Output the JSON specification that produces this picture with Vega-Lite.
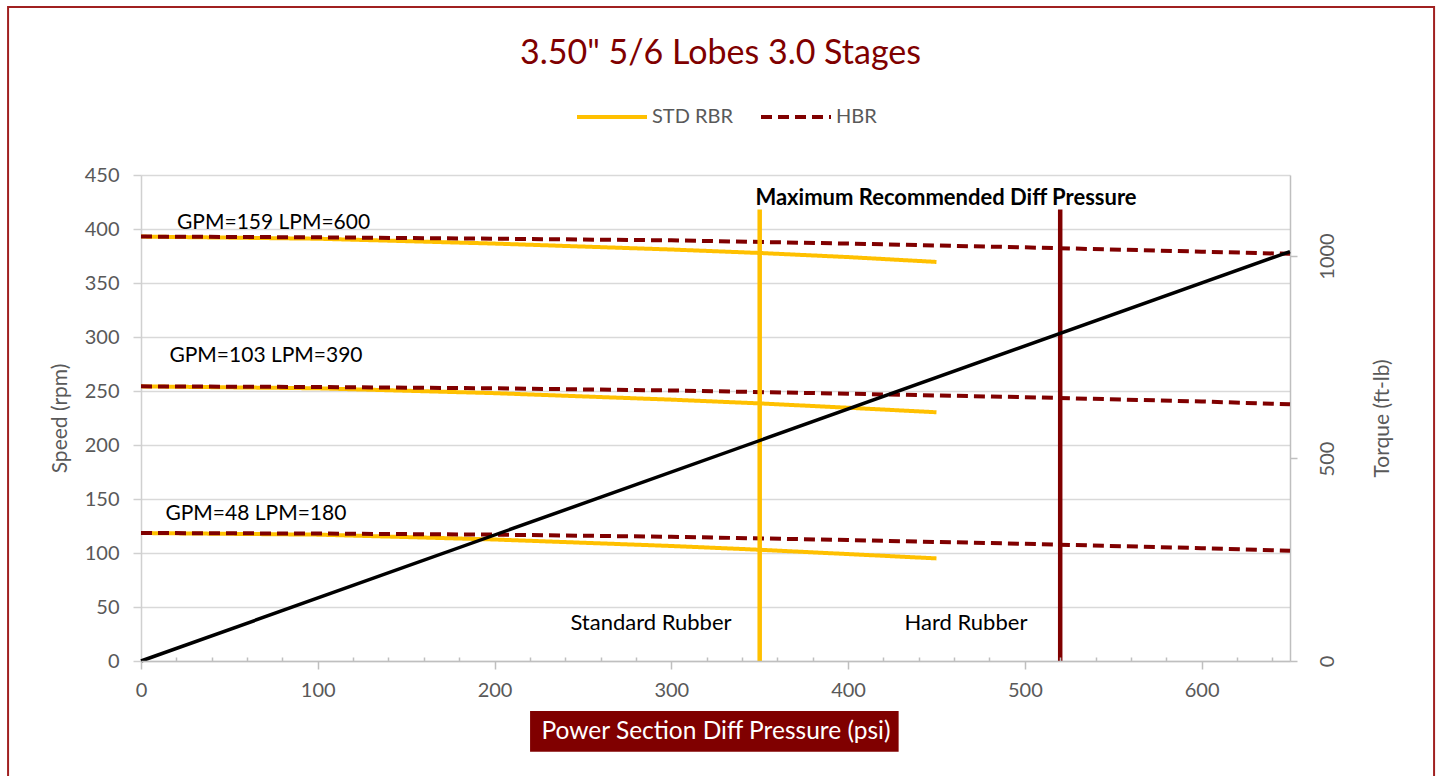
{
  "$schema": "https://vega.github.io/schema/vega-lite/v6.json",
  "width": 1149,
  "height": 486,
  "autosize": {"type": "none"},
  "padding": {"left": 141, "top": 175, "right": 149, "bottom": 115},
  "background": "white",
  "title": {
    "text": "3.50\" 5/6 Lobes 3.0 Stages",
    "font": "Lato",
    "fontSize": 34,
    "fontWeight": "normal",
    "color": "#7F0000",
    "anchor": "middle",
    "frame": "group",
    "offset": -92,
    "dx": 5,
    "baseline": "alphabetic"
  },
  "config": {
    "view": {"stroke": null},
    "font": "Lato",
    "axisX": {
      "values": [0,20,40,60,80,100,120,140,160,180,200,220,240,260,280,300,320,340,360,380,400,420,440,460,480,500,520,540,560,580,600,620,640],
      "labelExpr": "datum.value % 100 === 0 ? datum.label : ''",
      "tickSize": {"condition": {"test": "datum.value % 100 === 0", "value": 8}, "value": -4},
      "labelOverlap": false,
      "labelFlush": false,
      "grid": false,
      "domainColor": "#BFBFBF",
      "domainWidth": 1.5,
      "tickColor": "#BFBFBF",
      "tickWidth": 1.5,
      "labelFontSize": 20,
      "labelColor": "#595959",
      "labelPadding": 11,
      "titleColor": "#FFFFFF",
      "titleFontSize": 24.5,
      "titleFontWeight": "normal",
      "titleY": 70,
      "titleBaseline": "middle",
      "zindex": 1
    }
  },
  "resolve": {"scale": {"y": "independent"}},
  "layer": [
    {
      "layer": [
        {
          "data": {"values": [{}]},
          "mark": {"type": "rect", "fill": null, "stroke": "#A02020", "strokeWidth": 2},
          "encoding": {
            "x": {"datum": -75.2, "type": "quantitative", "title": "Power Section Diff Pressure (psi)", "axis": {"values": [0,20,40,60,80,100,120,140,160,180,200,220,240,260,280,300,320,340,360,380,400,420,440,460,480,500,520,540,560,580,600,620,640], "labelExpr": "datum.value % 100 === 0 ? datum.label : ''", "labelOverlap": false, "zindex": 1, "tickSize": {"condition": {"test": "datum.value % 100 === 0", "value": 8}, "value": -4}}},
            "x2": {"datum": 731.5},
            "y": {"datum": 605.6, "type": "quantitative", "title": "Speed (rpm)"},
            "y2": {"datum": -140}
          }
        },
        {
          "data": {"values": [{}]},
          "mark": {"type": "rect", "fill": "#800000"},
          "encoding": {
            "x": {"datum": 220.1, "type": "quantitative", "title": "Power Section Diff Pressure (psi)", "axis": {"values": [0,20,40,60,80,100,120,140,160,180,200,220,240,260,280,300,320,340,360,380,400,420,440,460,480,500,520,540,560,580,600,620,640], "labelExpr": "datum.value % 100 === 0 ? datum.label : ''", "labelOverlap": false, "zindex": 1, "tickSize": {"condition": {"test": "datum.value % 100 === 0", "value": 8}, "value": -4}}},
            "x2": {"datum": 428.6},
            "y": {"datum": -46.3, "type": "quantitative", "title": "Speed (rpm)"},
            "y2": {"datum": -84}
          }
        },
        {
          "data": {
            "values": [
              {"flow": "600", "series": "STD RBR", "psi": 0, "rpm": 393},
              {"flow": "600", "series": "STD RBR", "psi": 100, "rpm": 391},
              {"flow": "600", "series": "STD RBR", "psi": 200, "rpm": 386.5},
              {"flow": "600", "series": "STD RBR", "psi": 300, "rpm": 381},
              {"flow": "600", "series": "STD RBR", "psi": 350, "rpm": 377.8},
              {"flow": "600", "series": "STD RBR", "psi": 400, "rpm": 374},
              {"flow": "600", "series": "STD RBR", "psi": 450, "rpm": 369.5},
              {"flow": "390", "series": "STD RBR", "psi": 0, "rpm": 254.3},
              {"flow": "390", "series": "STD RBR", "psi": 100, "rpm": 252.5},
              {"flow": "390", "series": "STD RBR", "psi": 200, "rpm": 248},
              {"flow": "390", "series": "STD RBR", "psi": 300, "rpm": 242},
              {"flow": "390", "series": "STD RBR", "psi": 350, "rpm": 238.5},
              {"flow": "390", "series": "STD RBR", "psi": 400, "rpm": 234.5},
              {"flow": "390", "series": "STD RBR", "psi": 450, "rpm": 230.3},
              {"flow": "180", "series": "STD RBR", "psi": 0, "rpm": 118.5},
              {"flow": "180", "series": "STD RBR", "psi": 100, "rpm": 117},
              {"flow": "180", "series": "STD RBR", "psi": 200, "rpm": 112.5},
              {"flow": "180", "series": "STD RBR", "psi": 300, "rpm": 106.5},
              {"flow": "180", "series": "STD RBR", "psi": 350, "rpm": 103},
              {"flow": "180", "series": "STD RBR", "psi": 400, "rpm": 99},
              {"flow": "180", "series": "STD RBR", "psi": 450, "rpm": 95},
              {"flow": "600", "series": "HBR", "psi": 0, "rpm": 393},
              {"flow": "600", "series": "HBR", "psi": 100, "rpm": 392.3},
              {"flow": "600", "series": "HBR", "psi": 200, "rpm": 391},
              {"flow": "600", "series": "HBR", "psi": 300, "rpm": 389.5},
              {"flow": "600", "series": "HBR", "psi": 400, "rpm": 386.5},
              {"flow": "600", "series": "HBR", "psi": 500, "rpm": 383},
              {"flow": "600", "series": "HBR", "psi": 600, "rpm": 379},
              {"flow": "600", "series": "HBR", "psi": 650, "rpm": 377},
              {"flow": "390", "series": "HBR", "psi": 0, "rpm": 254.3},
              {"flow": "390", "series": "HBR", "psi": 100, "rpm": 253.7},
              {"flow": "390", "series": "HBR", "psi": 200, "rpm": 252.5},
              {"flow": "390", "series": "HBR", "psi": 300, "rpm": 250.5},
              {"flow": "390", "series": "HBR", "psi": 400, "rpm": 247.5},
              {"flow": "390", "series": "HBR", "psi": 500, "rpm": 244.3},
              {"flow": "390", "series": "HBR", "psi": 600, "rpm": 240.3},
              {"flow": "390", "series": "HBR", "psi": 650, "rpm": 237.7},
              {"flow": "180", "series": "HBR", "psi": 0, "rpm": 118.5},
              {"flow": "180", "series": "HBR", "psi": 100, "rpm": 118},
              {"flow": "180", "series": "HBR", "psi": 200, "rpm": 117},
              {"flow": "180", "series": "HBR", "psi": 300, "rpm": 115},
              {"flow": "180", "series": "HBR", "psi": 400, "rpm": 112},
              {"flow": "180", "series": "HBR", "psi": 500, "rpm": 108.5},
              {"flow": "180", "series": "HBR", "psi": 600, "rpm": 104.5},
              {"flow": "180", "series": "HBR", "psi": 650, "rpm": 102}
            ]
          },
          "mark": {"type": "line", "strokeWidth": 4},
          "encoding": {
            "x": {
              "field": "psi",
              "type": "quantitative",
              "title": "Power Section Diff Pressure (psi)",
              "scale": {"domain": [0, 650], "nice": false, "zero": true},
              "axis": {"values": [0,20,40,60,80,100,120,140,160,180,200,220,240,260,280,300,320,340,360,380,400,420,440,460,480,500,520,540,560,580,600,620,640], "labelExpr": "datum.value % 100 === 0 ? datum.label : ''", "labelOverlap": false, "zindex": 1, "tickSize": {"condition": {"test": "datum.value % 100 === 0", "value": 8}, "value": -4}}
            },
            "y": {
              "field": "rpm",
              "type": "quantitative",
              "title": "Speed (rpm)",
              "scale": {"domain": [0, 450], "nice": false},
              "axis": {
                "orient": "left",
                "values": [0,50,100,150,200,250,300,350,400,450],
                "grid": true,
                "gridColor": "#D9D9D9",
                "gridWidth": 1.5,
                "domainColor": "#D0D0D0",
                "domainWidth": 1.5,
                "tickColor": "#D0D0D0",
                "tickWidth": 1.5,
                "tickSize": 8,
                "labelFontSize": 20,
                "labelColor": "#595959",
                "labelPadding": 14,
                "labelFlush": false,
                "titleFontSize": 21,
                "titleFontWeight": "normal",
                "titleColor": "#595959",
                "titleAngle": 270,
                "titleX": -81,
                "titleY": 243,
                "titleAlign": "center",
                "titleBaseline": "middle"
              }
            },
            "color": {
              "field": "series",
              "type": "nominal",
              "title": null,
              "scale": {"domain": ["STD RBR", "HBR"], "range": ["#FFC000", "#800000"]},
              "legend": {
                "orient": "none",
                "legendX": 434,
                "legendY": -95,
                "direction": "horizontal",
                "padding": 0,
                "symbolType": "stroke",
                "symbolSize": 4900,
                "symbolStrokeWidth": 4,
                "labelFontSize": 20,
                "labelColor": "#595959",
                "labelOffset": 3,
                "columnPadding": 20
              }
            },
            "strokeDash": {
              "field": "series",
              "type": "nominal",
              "title": null,
              "scale": {"domain": ["STD RBR", "HBR"], "range": [[1, 0], [11, 6]]},
              "legend": {
                "orient": "none",
                "legendX": 434,
                "legendY": -95,
                "direction": "horizontal",
                "padding": 0,
                "symbolType": "stroke",
                "symbolSize": 4900,
                "symbolStrokeWidth": 4,
                "labelFontSize": 20,
                "labelColor": "#595959",
                "labelOffset": 3,
                "columnPadding": 20
              }
            },
            "detail": {"field": "flow", "type": "nominal"}
          }
        },
        {
          "data": {"values": [{"psi": 350, "rpm": 0, "rpm2": 418}]},
          "mark": {"type": "rule", "color": "#FFC000", "strokeWidth": 4.5},
          "encoding": {
            "x": {"field": "psi", "type": "quantitative", "title": "Power Section Diff Pressure (psi)", "axis": {"values": [0,20,40,60,80,100,120,140,160,180,200,220,240,260,280,300,320,340,360,380,400,420,440,460,480,500,520,540,560,580,600,620,640], "labelExpr": "datum.value % 100 === 0 ? datum.label : ''", "labelOverlap": false, "zindex": 1, "tickSize": {"condition": {"test": "datum.value % 100 === 0", "value": 8}, "value": -4}}},
            "y": {"field": "rpm", "type": "quantitative", "title": "Speed (rpm)"},
            "y2": {"field": "rpm2"}
          }
        },
        {
          "data": {"values": [{"psi": 520, "rpm": 0, "rpm2": 418}]},
          "mark": {"type": "rule", "color": "#800000", "strokeWidth": 4.5},
          "encoding": {
            "x": {"field": "psi", "type": "quantitative", "title": "Power Section Diff Pressure (psi)", "axis": {"values": [0,20,40,60,80,100,120,140,160,180,200,220,240,260,280,300,320,340,360,380,400,420,440,460,480,500,520,540,560,580,600,620,640], "labelExpr": "datum.value % 100 === 0 ? datum.label : ''", "labelOverlap": false, "zindex": 1, "tickSize": {"condition": {"test": "datum.value % 100 === 0", "value": 8}, "value": -4}}},
            "y": {"field": "rpm", "type": "quantitative", "title": "Speed (rpm)"},
            "y2": {"field": "rpm2"}
          }
        },
        {
          "data": {
            "values": [
              {"label": "GPM=159 LPM=600", "psi": 75, "rpm": 400},
              {"label": "GPM=103 LPM=390", "psi": 70.7, "rpm": 277},
              {"label": "GPM=48 LPM=180", "psi": 65, "rpm": 130.6}
            ]
          },
          "mark": {"type": "text", "align": "center", "baseline": "alphabetic", "fontSize": 21, "color": "#000000", "font": "Lato"},
          "encoding": {
            "x": {"field": "psi", "type": "quantitative", "title": "Power Section Diff Pressure (psi)", "axis": {"values": [0,20,40,60,80,100,120,140,160,180,200,220,240,260,280,300,320,340,360,380,400,420,440,460,480,500,520,540,560,580,600,620,640], "labelExpr": "datum.value % 100 === 0 ? datum.label : ''", "labelOverlap": false, "zindex": 1, "tickSize": {"condition": {"test": "datum.value % 100 === 0", "value": 8}, "value": -4}}},
            "y": {"field": "rpm", "type": "quantitative", "title": "Speed (rpm)"},
            "text": {"field": "label", "type": "nominal"}
          }
        },
        {
          "data": {
            "values": [
              {"label": "Standard Rubber", "psi": 288.5, "rpm": 28.7},
              {"label": "Hard Rubber", "psi": 466.7, "rpm": 28.7}
            ]
          },
          "mark": {"type": "text", "align": "center", "baseline": "alphabetic", "fontSize": 22, "color": "#000000", "font": "Lato"},
          "encoding": {
            "x": {"field": "psi", "type": "quantitative", "title": "Power Section Diff Pressure (psi)", "axis": {"values": [0,20,40,60,80,100,120,140,160,180,200,220,240,260,280,300,320,340,360,380,400,420,440,460,480,500,520,540,560,580,600,620,640], "labelExpr": "datum.value % 100 === 0 ? datum.label : ''", "labelOverlap": false, "zindex": 1, "tickSize": {"condition": {"test": "datum.value % 100 === 0", "value": 8}, "value": -4}}},
            "y": {"field": "rpm", "type": "quantitative", "title": "Speed (rpm)"},
            "text": {"field": "label", "type": "nominal"}
          }
        },
        {
          "data": {"values": [{"label": "Maximum Recommended Diff Pressure", "psi": 455.4, "rpm": 422.2}]},
          "mark": {"type": "text", "align": "center", "baseline": "alphabetic", "fontSize": 22, "fontWeight": "bold", "color": "#000000", "font": "Lato"},
          "encoding": {
            "x": {"field": "psi", "type": "quantitative", "title": "Power Section Diff Pressure (psi)", "axis": {"values": [0,20,40,60,80,100,120,140,160,180,200,220,240,260,280,300,320,340,360,380,400,420,440,460,480,500,520,540,560,580,600,620,640], "labelExpr": "datum.value % 100 === 0 ? datum.label : ''", "labelOverlap": false, "zindex": 1, "tickSize": {"condition": {"test": "datum.value % 100 === 0", "value": 8}, "value": -4}}},
            "y": {"field": "rpm", "type": "quantitative", "title": "Speed (rpm)"},
            "text": {"field": "label", "type": "nominal"}
          }
        }
      ]
    },
    {
      "data": {"values": [{"psi": 0, "torque": 0}, {"psi": 650, "torque": 1011}]},
      "mark": {"type": "line", "color": "#000000", "strokeWidth": 3.5},
      "encoding": {
        "x": {"field": "psi", "type": "quantitative", "title": "Power Section Diff Pressure (psi)", "axis": {"values": [0,20,40,60,80,100,120,140,160,180,200,220,240,260,280,300,320,340,360,380,400,420,440,460,480,500,520,540,560,580,600,620,640], "labelExpr": "datum.value % 100 === 0 ? datum.label : ''", "labelOverlap": false, "zindex": 1, "tickSize": {"condition": {"test": "datum.value % 100 === 0", "value": 8}, "value": -4}}},
        "y": {
          "field": "torque",
          "type": "quantitative",
          "title": "Torque (ft-lb)",
          "scale": {"domain": [0, 1200], "nice": false},
          "axis": {
            "orient": "right",
            "values": [0, 500, 1000],
            "format": "d",
            "grid": false,
            "domainColor": "#BFBFBF",
            "domainWidth": 1.5,
            "tickColor": "#BFBFBF",
            "tickWidth": 1.5,
            "tickSize": 7,
            "labelFontSize": 20,
            "labelColor": "#595959",
            "labelAngle": 270,
            "labelAlign": "center",
            "labelBaseline": "top",
            "labelPadding": 20,
            "labelFlush": false,
            "titleFontSize": 21,
            "titleFontWeight": "normal",
            "titleColor": "#595959",
            "titleAngle": 270,
            "titleX": 92,
            "titleY": 243,
            "titleAlign": "center",
            "titleBaseline": "middle"
          }
        }
      }
    }
  ]
}
